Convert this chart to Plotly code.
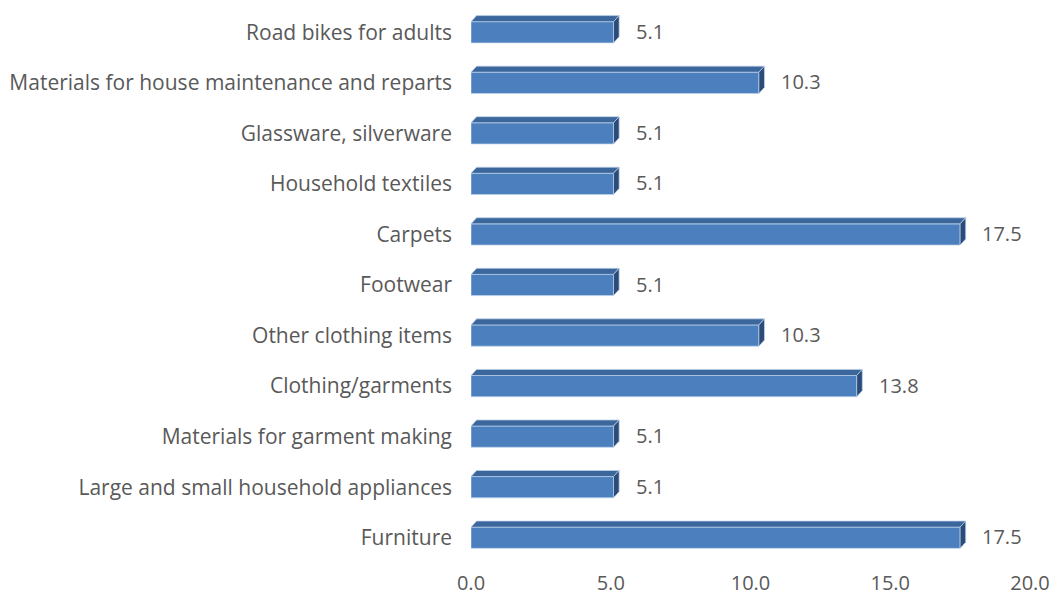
import plotly.graph_objects as go

# Categories listed bottom to top
categories = [
    "Furniture",
    "Large and small household appliances",
    "Materials for garment making",
    "Clothing/garments",
    "Other clothing items",
    "Footwear",
    "Carpets",
    "Household textiles",
    "Glassware, silverware",
    "Materials for house maintenance and reparts",
    "Road bikes for adults",
]
values = [17.5, 5.1, 5.1, 13.8, 10.3, 5.1, 17.5, 5.1, 5.1, 10.3, 5.1]
x_ticks = [0, 5, 10, 15, 20]
x_ticktext = ["0.0", "5.0", "10.0", "15.0", "20.0"]

FRONT = "#4b7fbd"
TOP = "#3b679c"
SIDE = "#2b4c78"
EDGE = "rgba(190,210,235,0.9)"
TEXT = "#595959"
FONT = "Open Sans"

BAR_W = 0.42      # front face thickness (category units)
DX = 0.2          # extrusion depth along x (value units)
DY = 0.12         # extrusion depth along y (category units)

pos = list(range(len(categories)))

fig = go.Figure()
fig.add_trace(go.Bar(
    x=values, y=pos, orientation="h", width=BAR_W,
    marker=dict(color=FRONT, line=dict(color=EDGE, width=0.8)),
    hoverinfo="skip",
))

shapes = []
annotations = []
for i, v in zip(pos, values):
    y0, y1 = i - BAR_W / 2, i + BAR_W / 2
    # top face
    shapes.append(dict(
        type="path", xref="x", yref="y",
        path=f"M 0,{y1} L {v},{y1} L {v + DX},{y1 + DY} L {DX},{y1 + DY} Z",
        fillcolor=TOP, line=dict(color=EDGE, width=0.8), layer="above",
    ))
    # right side face
    shapes.append(dict(
        type="path", xref="x", yref="y",
        path=f"M {v},{y0} L {v + DX},{y0 + DY} L {v + DX},{y1 + DY} L {v},{y1} Z",
        fillcolor=SIDE, line=dict(color=EDGE, width=0.8), layer="above",
    ))
    annotations.append(dict(
        x=v, y=i, xref="x", yref="y", text=f"{v:.1f}",
        showarrow=False, xanchor="left", xshift=20, yshift=1,
        font=dict(family=FONT, size=20, color=TEXT),
    ))

fig.update_layout(
    width=1057, height=606,
    margin=dict(l=471, r=20, t=7, b=43),
    paper_bgcolor="white", plot_bgcolor="white",
    showlegend=False,
    shapes=shapes, annotations=annotations,
    xaxis=dict(
        range=[0, 20], tickvals=x_ticks, ticktext=x_ticktext,
        showgrid=False, zeroline=False, showline=False, ticks="",
        ticklabelstandoff=6,
        tickfont=dict(family=FONT, size=20, color=TEXT),
    ),
    yaxis=dict(
        range=[-0.5, len(categories) - 0.5],
        tickvals=pos, ticktext=categories,
        showgrid=False, zeroline=False, showline=False, ticks="",
        ticklabelstandoff=18,
        tickfont=dict(family=FONT, size=21, color=TEXT),
    ),
)

fig.write_html("out.html")
